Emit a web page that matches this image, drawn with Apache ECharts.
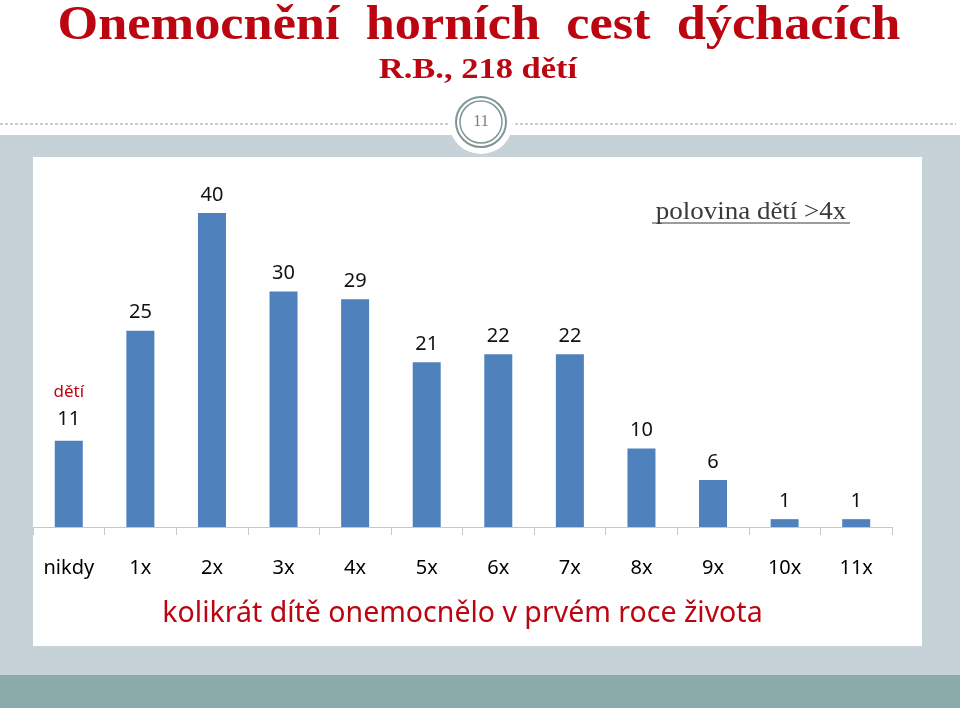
<!DOCTYPE html>
<html><head><meta charset="utf-8">
<script src="https://cdn.jsdelivr.net/npm/echarts@6/dist/echarts.min.js"></script>
<style>html,body{margin:0;padding:0;background:#fff}#c{width:960px;height:712px}</style>
</head><body><div id="c"></div>
<script>
const categories = ['nikdy','1x','2x','3x','4x','5x','6x','7x','8x','9x','10x','11x'];
const values = [11,25,40,30,29,21,22,22,10,6,1,1];
const titleText = 'Onemocnění  horních  cest  dýchacích';
const subtitleText = 'R.B., 218 dětí';
const axisTitle = 'kolikrát dítě onemocnělo v prvém roce života';
const noteText = 'polovina dětí >4x';
const pageNo = '11';
const unitText = 'dětí';

const RED = '#bb0510';
const chart = echarts.init(document.getElementById('c'), null, {renderer:'canvas'});
const data = values.map((v,i)=> i===0 ? {value:v, label:{formatter:'{r|'+unitText+'}\n{v|{c}}'}} : v);
chart.setOption({
  animation:false,
  backgroundColor:'#ffffff',
  grid:{left:33,right:68,top:213,bottom:185},
  xAxis:{type:'category',data:categories,
    axisLine:{lineStyle:{color:'#c8c8c8',width:1}},
    axisTick:{show:true,length:8,lineStyle:{color:'#c8c8c8'}},
    axisLabel:{color:'#000',fontSize:20,fontFamily:'Noto Sans',margin:31},
    name:axisTitle,nameLocation:'middle',nameGap:72,
    nameTextStyle:{color:RED,fontSize:28.5,fontFamily:'Noto Sans'}},
  yAxis:{type:'value',min:0,max:40,show:false},
  series:[{type:'bar',data:data,barWidth:28,
    itemStyle:{color:'#4f81bd'},
    label:{show:true,position:'top',distance:8,color:'#111',fontSize:20,fontFamily:'Noto Sans',
      rich:{r:{color:RED,fontSize:17,fontFamily:'Noto Sans',lineHeight:27},v:{color:'#111',fontSize:20,fontFamily:'Noto Sans',lineHeight:27}}}}],
  graphic:[
    {type:'rect',z:-10,silent:true,shape:{x:0,y:135,width:960,height:540},style:{fill:'#c6d1d8'}},
    {type:'rect',z:-10,silent:true,shape:{x:0,y:675,width:960,height:33},style:{fill:'#8aabaa'}},
    {type:'rect',z:-9,silent:true,shape:{x:33,y:157,width:889,height:489},style:{fill:'#ffffff'}},
    {type:'line',z:-8,silent:true,shape:{x1:0,y1:124,x2:450,y2:124},style:{stroke:'#999',lineWidth:1,lineDash:[3,2]}},
    {type:'line',z:-8,silent:true,shape:{x1:510,y1:124,x2:956,y2:124},style:{stroke:'#999',lineWidth:1,lineDash:[3,2]}},
    {type:'circle',z:-7,silent:true,shape:{cx:481,cy:122,r:32},style:{fill:'#ffffff'}},
    {type:'circle',z:-6,silent:true,shape:{cx:481,cy:122,r:25},style:{fill:'none',stroke:'#7d9796',lineWidth:2}},
    {type:'circle',z:-6,silent:true,shape:{cx:481,cy:122,r:21},style:{fill:'none',stroke:'#7d9796',lineWidth:1.5}},
    {type:'text',z:-5,silent:true,x:481,y:122,style:{text:pageNo,fill:'#6f8282',fontSize:16,fontFamily:'Liberation Serif',align:'center',verticalAlign:'middle'}},
    {type:'text',silent:true,x:479,y:27,scaleX:1.09,originX:0,originY:0,style:{text:titleText,fill:RED,fontSize:48,fontWeight:'bold',fontFamily:'Liberation Serif',align:'center',verticalAlign:'middle'}},
    {type:'text',silent:true,x:478,y:70,scaleX:1.15,originX:0,originY:0,style:{text:subtitleText,fill:RED,fontSize:30,fontWeight:'bold',fontFamily:'Liberation Serif',align:'center',verticalAlign:'middle'}},
    {type:'text',silent:true,x:751,y:212,scaleX:1.08,originX:0,originY:0,style:{text:noteText,fill:'#3a3a3a',fontSize:25,fontFamily:'Liberation Serif',align:'center',verticalAlign:'middle'}},
    {type:'line',silent:true,shape:{x1:652,y1:223,x2:850,y2:223},style:{stroke:'#3a3a3a',lineWidth:1.2}}
  ]
});
</script></body></html>
